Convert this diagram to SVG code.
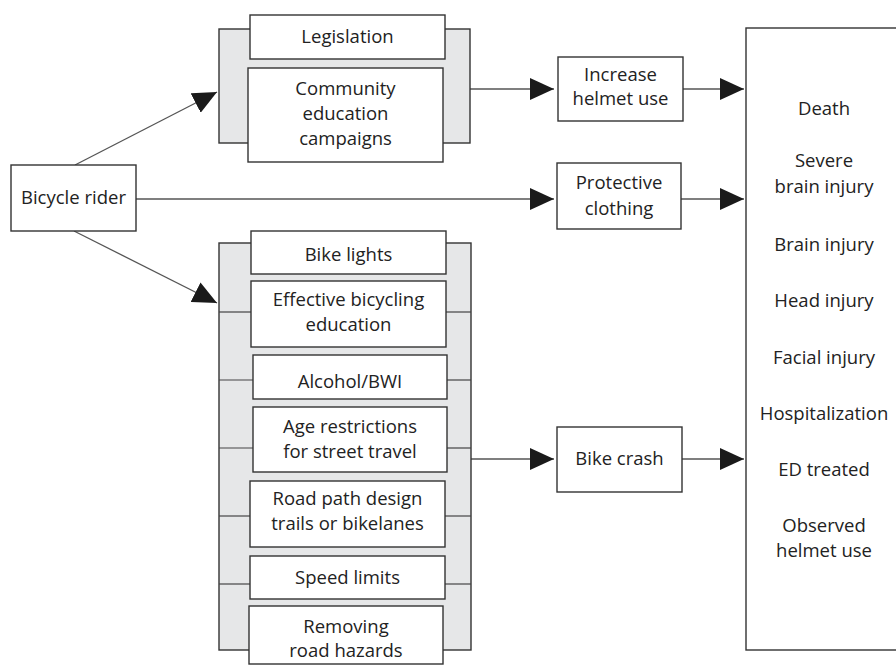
<svg xmlns="http://www.w3.org/2000/svg" width="896" height="668" viewBox="0 0 896 668">
<defs>
<style>
text{font-family:"Open Sans","Noto Sans","DejaVu Sans",sans-serif;font-size:18.5px;fill:#222;text-anchor:middle}
.box{fill:#fff;stroke:#333;stroke-width:1.4}
.grp{fill:#e6e7e8;stroke:#333;stroke-width:1.4}
.ln{stroke:#555;stroke-width:1.3;fill:none}
.tick{stroke:#444;stroke-width:1.2;fill:none}
</style>
<marker id="ah" viewBox="0 0 24 22" refX="24" refY="11" markerWidth="24" markerHeight="22" markerUnits="userSpaceOnUse" orient="auto">
<path d="M0,0 L24,11 L0,22 Z" fill="#1a1a1a"/>
</marker>
</defs>
<rect width="896" height="668" fill="#fff"/>

<g id="connectors">
<line class="ln" x1="75" y1="165" x2="217" y2="92" marker-end="url(#ah)"/>
<line class="ln" x1="74" y1="231" x2="217" y2="303" marker-end="url(#ah)"/>
<line class="ln" x1="136" y1="199" x2="554" y2="199" marker-end="url(#ah)"/>
<line class="ln" x1="470" y1="89" x2="554" y2="89" marker-end="url(#ah)"/>
<line class="ln" x1="471" y1="459" x2="554" y2="459" marker-end="url(#ah)"/>
<line class="ln" x1="683" y1="89" x2="744" y2="89" marker-end="url(#ah)"/>
<line class="ln" x1="681" y1="199" x2="744" y2="199" marker-end="url(#ah)"/>
<line class="ln" x1="682" y1="459" x2="744" y2="459" marker-end="url(#ah)"/>
</g>

<g id="rider">
<rect class="box" x="11" y="165" width="125" height="66"/>
<text x="73.5" y="204">Bicycle rider</text>
</g>

<g id="helmet-group">
<rect class="grp" x="219" y="29" width="251" height="114"/>
<g id="legislation">
<rect class="box" x="250" y="15" width="195" height="44"/>
<text x="347.5" y="43">Legislation</text>
</g>
<g id="community">
<rect class="box" x="248" y="68" width="195" height="94"/>
<text x="345.5" y="95">Community</text>
<text x="345.5" y="120">education</text>
<text x="345.5" y="145">campaigns</text>
</g>
</g>

<g id="crash-group">
<rect class="grp" x="219" y="243" width="252" height="407"/>
<g class="tick">
<line x1="219" y1="312" x2="251" y2="312"/><line x1="446" y1="312" x2="471" y2="312"/>
<line x1="219" y1="380" x2="253" y2="380"/><line x1="447" y1="380" x2="471" y2="380"/>
<line x1="219" y1="448" x2="253" y2="448"/><line x1="447" y1="448" x2="471" y2="448"/>
<line x1="219" y1="516" x2="250" y2="516"/><line x1="445" y1="516" x2="471" y2="516"/>
<line x1="219" y1="584" x2="250" y2="584"/><line x1="445" y1="584" x2="471" y2="584"/>
</g>
<g id="bike-lights">
<rect class="box" x="251" y="231" width="195" height="43"/>
<text x="348.5" y="261">Bike lights</text>
</g>
<g id="effective-education">
<rect class="box" x="251" y="281" width="195" height="66"/>
<text x="348.5" y="306">Effective bicycling</text>
<text x="348.5" y="331">education</text>
</g>
<g id="alcohol">
<rect class="box" x="253" y="355" width="194" height="44"/>
<text x="350" y="388">Alcohol/BWI</text>
</g>
<g id="age">
<rect class="box" x="253" y="407" width="194" height="65"/>
<text x="350" y="433">Age restrictions</text>
<text x="350" y="458">for street travel</text>
</g>
<g id="road-path">
<rect class="box" x="250" y="481" width="195" height="66"/>
<text x="347.5" y="505">Road path design</text>
<text x="347.5" y="530">trails or bikelanes</text>
</g>
<g id="speed">
<rect class="box" x="250" y="556" width="195" height="43"/>
<text x="347.5" y="584">Speed limits</text>
</g>
<g id="hazards">
<rect class="box" x="249" y="606" width="194" height="58"/>
<text x="346" y="633">Removing</text>
<text x="346" y="657">road hazards</text>
</g>
</g>

<g id="increase-helmet">
<rect class="box" x="558" y="57" width="125" height="64"/>
<text x="620.5" y="81">Increase</text>
<text x="620.5" y="105">helmet use</text>
</g>

<g id="protective">
<rect class="box" x="557" y="163" width="124" height="66"/>
<text x="619" y="189">Protective</text>
<text x="619" y="215">clothing</text>
</g>

<g id="bike-crash">
<rect class="box" x="557" y="427" width="125" height="65"/>
<text x="619.5" y="465">Bike crash</text>
</g>

<g id="outcomes">
<rect class="box" x="746" y="28" width="160" height="622"/>
<text x="824" y="115">Death</text>
<text x="824" y="167">Severe</text>
<text x="824" y="193">brain injury</text>
<text x="824" y="251">Brain injury</text>
<text x="824" y="307">Head injury</text>
<text x="824" y="364">Facial injury</text>
<text x="824" y="420">Hospitalization</text>
<text x="824" y="476">ED treated</text>
<text x="824" y="532">Observed</text>
<text x="824" y="557">helmet use</text>
</g>
</svg>
